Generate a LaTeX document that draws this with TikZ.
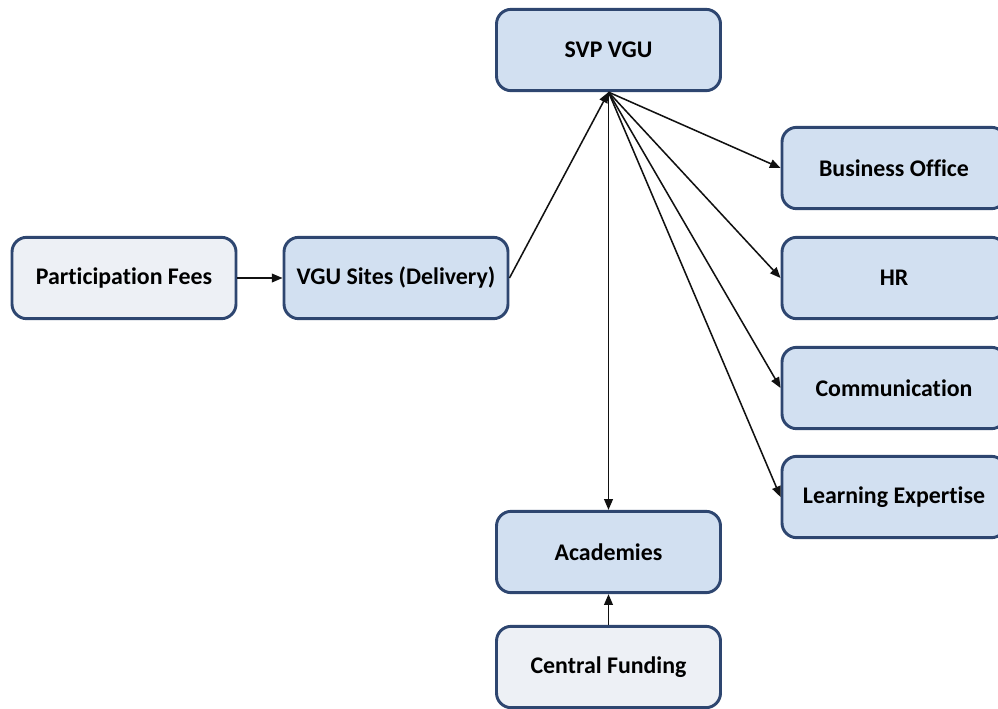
\documentclass[tikz,border=0pt]{standalone}
\usepackage{fontspec}
\setmainfont{Carlito}[Ligatures=NoCommon]
\usetikzlibrary{arrows.meta,positioning}
\definecolor{edge}{HTML}{2E4670}
\definecolor{unit}{HTML}{D2E0F1}
\definecolor{fund}{HTML}{EDF0F5}
\definecolor{ink}{HTML}{111111}

\begin{document}
\begin{tikzpicture}[x=0.75pt,y=-0.75pt,
  box/.style={draw=edge,line width=2.2pt,fill=unit,rounded corners=11pt,
              minimum width=168pt,minimum height=61pt,align=center,
              font=\bfseries\fontsize{17.9}{21}\selectfont},
  src/.style={box,fill=fund},
  arr/.style={-{Triangle[length=8pt,width=6.5pt]},line width=1.15pt,color=ink}]
\useasboundingbox (0,0) rectangle (998,708);
\clip (0,0) rectangle (998,708);
\node[box] (svp) at (608.5,50) {SVP VGU};
\node[src] (fees) at (124,278) {Participation Fees};
\node[box] (sites) at (396,278) {VGU Sites (Delivery)};
\node[box] (bo) at (894,168) {Business Office};
\node[box] (hr) at (894,278) {HR};
\node[box] (comm) at (894,388) {Communication};
\node[box] (learn) at (894,497) {Learning Expertise};
\node[box] (acad) at (608.5,552) {Academies};
\node[src] (cf) at (608.5,667) {Central Funding};
% funding into the sites and up to the SVP
\draw[arr] (fees) -- (sites);
\draw[arr] (sites.east) -- (svp.south);
% SVP out to the support units
\draw[arr] (svp.south) -- (bo.west);
\draw[arr] (svp.south) -- (hr.west);
\draw[arr] (svp.south) -- (comm.west);
\draw[arr] (svp.south) -- (learn.west);
\draw[arr] (svp.south) -- (acad);
\draw[arr] (cf) -- (acad);
\end{tikzpicture}
\end{document}
